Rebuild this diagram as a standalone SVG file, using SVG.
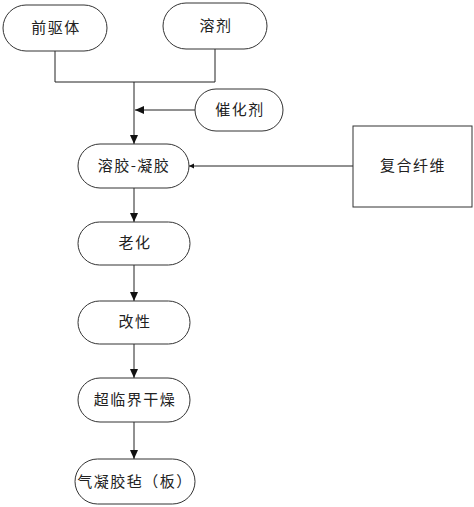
<svg xmlns="http://www.w3.org/2000/svg" width="474" height="507" viewBox="0 0 474 507">
<style>
.n{fill:#fff;stroke:#333;stroke-width:1}
.t{font-family:"Noto Sans CJK SC","Liberation Sans",sans-serif;font-size:15px;fill:#222;text-anchor:middle;letter-spacing:1.5px}
.c{fill:none;stroke:#222;stroke-width:1}
</style>
<defs>
<marker id="a" markerUnits="userSpaceOnUse" markerWidth="10" markerHeight="10" refX="9" refY="5" orient="auto">
<path d="M0,1 L9,5 L0,9 Z" fill="#111"/>
</marker>
<marker id="s" markerUnits="userSpaceOnUse" markerWidth="6" markerHeight="6" refX="5" refY="3" orient="auto">
<path d="M0,0.5 L5,3 L0,5.5 Z" fill="#111"/>
</marker>
</defs>
<rect width="474" height="507" fill="#fff"/>
<g id="connectors">
<polyline class="c" points="55,51 55,82 215,82 215,49"/>
<line class="c" x1="134" y1="82" x2="134" y2="144" marker-end="url(#a)"/>
<line class="c" x1="195" y1="110" x2="135" y2="110" marker-end="url(#a)"/>
<line class="c" x1="353" y1="166" x2="189" y2="166" marker-end="url(#s)"/>
<line class="c" x1="134" y1="188" x2="134" y2="222" marker-end="url(#a)"/>
<line class="c" x1="134" y1="265" x2="134" y2="301" marker-end="url(#a)"/>
<line class="c" x1="134" y1="344" x2="134" y2="378" marker-end="url(#a)"/>
<line class="c" x1="134" y1="422" x2="134" y2="459" marker-end="url(#a)"/>
</g>
<g id="n1"><rect class="n" x="3" y="5" width="104" height="46" rx="23"/><text class="t" x="56" y="33">前驱体</text></g>
<g id="n2"><rect class="n" x="163" y="3" width="104" height="46" rx="23"/><text class="t" x="216" y="31">溶剂</text></g>
<g id="n3"><rect class="n" x="195" y="89" width="88" height="42" rx="21"/><text class="t" x="240" y="115">催化剂</text></g>
<g id="n4"><rect class="n" x="78" y="144" width="111" height="44" rx="22"/><text class="t" x="134" y="171">溶胶-凝胶</text></g>
<g id="n5"><rect class="n" x="353" y="126" width="119" height="81"/><text class="t" x="413" y="171">复合纤维</text></g>
<g id="n6"><rect class="n" x="78" y="222" width="112" height="43" rx="21.5"/><text class="t" x="135" y="248">老化</text></g>
<g id="n7"><rect class="n" x="78" y="301" width="112" height="43" rx="21.5"/><text class="t" x="135" y="327">改性</text></g>
<g id="n8"><rect class="n" x="78" y="378" width="112" height="44" rx="22"/><text class="t" x="135" y="405">超临界干燥</text></g>
<g id="n9"><rect class="n" x="75" y="459" width="120" height="45" rx="22.5"/><text class="t" x="135" y="487">气凝胶毡（板）</text></g>
</svg>
